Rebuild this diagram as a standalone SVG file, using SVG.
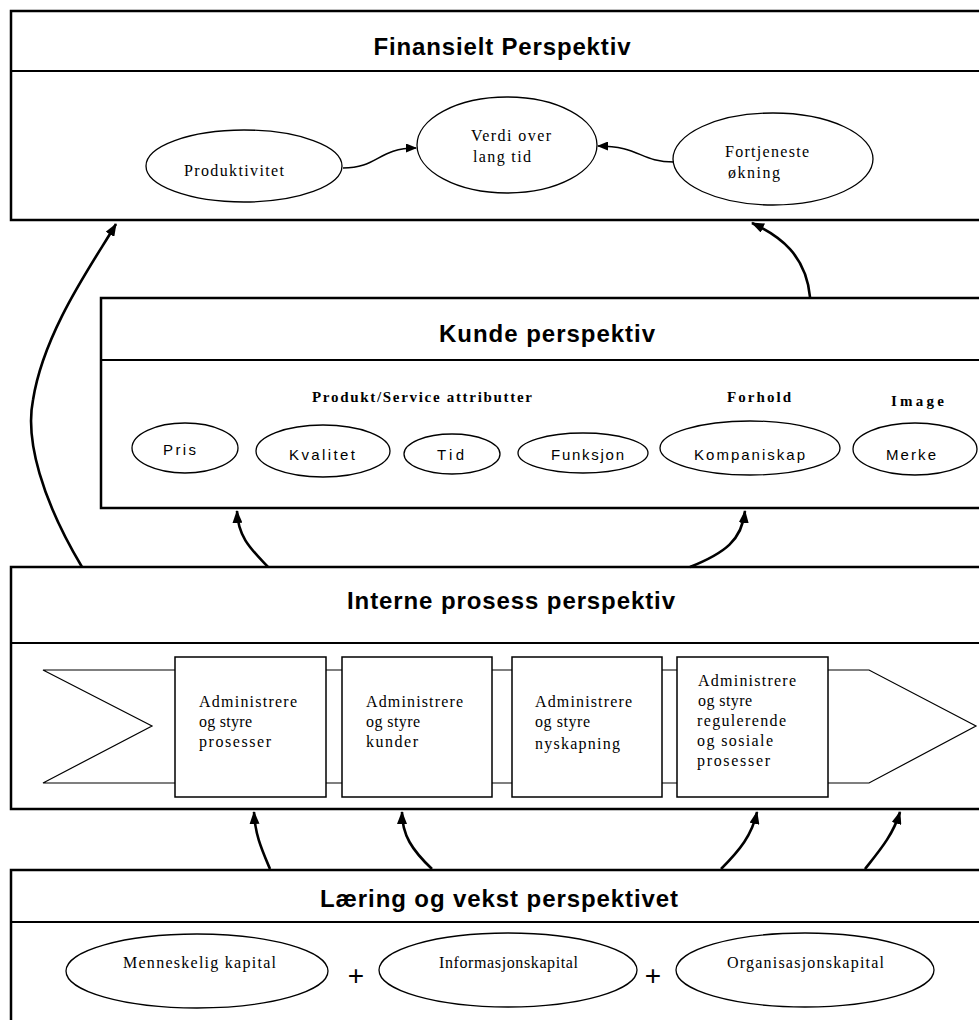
<svg xmlns="http://www.w3.org/2000/svg" width="979" height="1020" viewBox="0 0 979 1020">
  <defs>
    <style>
      .panel { fill: #fff; stroke: #000; stroke-width: 2.5; }
      .divider { stroke: #000; stroke-width: 2; }
      .title { font-family: "Liberation Sans", Arial, sans-serif; font-size: 24px; font-weight: bold; fill: #000; text-anchor: middle; }
      .oval { fill: #fff; stroke: #000; stroke-width: 1.3; }
      .serif { font-family: "Liberation Serif", "Times New Roman", serif; font-size: 16px; fill: #000; }
      .serif16 { font-family: "Liberation Serif", "Times New Roman", serif; font-size: 16px; fill: #000; }
      .sub { font-family: "Liberation Serif", "Times New Roman", serif; font-size: 15px; font-weight: bold; fill: #000; }
      .sans { font-family: "Liberation Sans", Arial, sans-serif; font-size: 15px; fill: #000; }
      .plus { font-family: "Liberation Sans", Arial, sans-serif; font-size: 28px; fill: #000; text-anchor: middle; }
      .step { fill: #fff; stroke: #000; stroke-width: 1.5; }
      .chevron { fill: #fff; stroke: #000; stroke-width: 1.2; }
      .link { fill: none; stroke: #000; stroke-width: 2.6; }
      .thin { fill: none; stroke: #000; stroke-width: 1.5; }
    </style>
    <marker id="head" markerWidth="13" markerHeight="10" refX="12" refY="5" orient="auto" markerUnits="userSpaceOnUse">
      <path d="M0,0 L13,5 L0,10 Z" fill="#000"/>
    </marker>
    <marker id="headSmall" markerWidth="11" markerHeight="9" refX="10" refY="4.5" orient="auto" markerUnits="userSpaceOnUse">
      <path d="M0,0 L11,4.5 L0,9 Z" fill="#000"/>
    </marker>
  </defs>

  <rect width="979" height="1020" fill="#fff"/>

  <!-- Financial perspective -->
  <g id="finansielt">
    <rect class="panel" x="11" y="11" width="985" height="209"/>
    <line class="divider" x1="11" y1="71" x2="996" y2="71"/>
    <text class="title" x="502" y="55" textLength="257">Finansielt Perspektiv</text>
  </g>
  <g id="produktivitet">
    <ellipse class="oval" cx="244" cy="166" rx="98" ry="36"/>
    <text class="serif" x="184" y="176" textLength="100">Produktivitet</text>
  </g>
  <g id="verdi">
    <ellipse class="oval" cx="507" cy="145" rx="90" ry="48"/>
    <text class="serif" x="471" y="141" textLength="80">Verdi over</text>
    <text class="serif" x="473" y="162" textLength="58">lang tid</text>
  </g>
  <g id="fortjeneste">
    <ellipse class="oval" cx="773" cy="159" rx="100" ry="46"/>
    <text class="serif" x="725" y="157" textLength="84">Fortjeneste</text>
    <text class="serif" x="728" y="178" textLength="52">økning</text>
  </g>

  <!-- Customer perspective -->
  <g id="kunde">
    <rect class="panel" x="101" y="298" width="895" height="210"/>
    <line class="divider" x1="101" y1="360" x2="996" y2="360"/>
    <text class="title" x="547" y="342" textLength="216">Kunde perspektiv</text>
    <text class="sub" x="312" y="402" textLength="220">Produkt/Service attributter</text>
    <text class="sub" x="727" y="402" textLength="64">Forhold</text>
    <text class="sub" x="891" y="406" textLength="53">Image</text>
  </g>
  <g id="pris">
    <ellipse class="oval" cx="185" cy="448" rx="53" ry="25"/>
    <text class="sans" x="163" y="455" textLength="33">Pris</text>
  </g>
  <g id="kvalitet">
    <ellipse class="oval" cx="323" cy="451" rx="67" ry="26"/>
    <text class="sans" x="289" y="460" textLength="66">Kvalitet</text>
  </g>
  <g id="tid">
    <ellipse class="oval" cx="452" cy="454" rx="48" ry="20"/>
    <text class="sans" x="437" y="460" textLength="27">Tid</text>
  </g>
  <g id="funksjon">
    <ellipse class="oval" cx="583" cy="453" rx="65" ry="20"/>
    <text class="sans" x="551" y="460" textLength="73">Funksjon</text>
  </g>
  <g id="kompaniskap">
    <ellipse class="oval" cx="750" cy="448" rx="90" ry="27"/>
    <text class="sans" x="694" y="460" textLength="111">Kompaniskap</text>
  </g>
  <g id="merke">
    <ellipse class="oval" cx="915" cy="449" rx="62" ry="26"/>
    <text class="sans" x="886" y="460" textLength="50">Merke</text>
  </g>

  <!-- Internal process perspective -->
  <g id="interne">
    <rect class="panel" x="11" y="567" width="985" height="242"/>
    <line class="divider" x1="11" y1="643" x2="996" y2="643"/>
    <text class="title" x="511" y="609" textLength="328">Interne prosess perspektiv</text>
    <path class="chevron" d="M43,670 L869,670 L976,726 L869,783 L43,783 L152,726 Z"/>
  </g>
  <g id="prosesser">
    <rect class="step" x="175" y="657" width="151" height="140"/>
    <text class="serif16" x="199" y="707" textLength="98">Administrere</text>
    <text class="serif16" x="199" y="727" textLength="53">og styre</text>
    <text class="serif16" x="199" y="747" textLength="72">prosesser</text>
  </g>
  <g id="kunder">
    <rect class="step" x="342" y="657" width="150" height="140"/>
    <text class="serif16" x="366" y="707" textLength="97">Administrere</text>
    <text class="serif16" x="366" y="727" textLength="54">og styre</text>
    <text class="serif16" x="366" y="747" textLength="52">kunder</text>
  </g>
  <g id="nyskapning">
    <rect class="step" x="512" y="657" width="150" height="140"/>
    <text class="serif16" x="535" y="707" textLength="97">Administrere</text>
    <text class="serif16" x="535" y="727" textLength="55">og styre</text>
    <text class="serif16" x="535" y="749" textLength="85">nyskapning</text>
  </g>
  <g id="regulerende">
    <rect class="step" x="677" y="657" width="151" height="140"/>
    <text class="serif16" x="698" y="686" textLength="98">Administrere</text>
    <text class="serif16" x="698" y="706" textLength="54">og styre</text>
    <text class="serif16" x="697" y="726" textLength="89">regulerende</text>
    <text class="serif16" x="697" y="746" textLength="76">og sosiale</text>
    <text class="serif16" x="697" y="766" textLength="73">prosesser</text>
  </g>

  <!-- Learning and growth perspective -->
  <g id="laering">
    <rect class="panel" x="11" y="870" width="985" height="170"/>
    <line class="divider" x1="11" y1="922" x2="996" y2="922"/>
    <text class="title" x="499" y="907" textLength="358">Læring og vekst perspektivet</text>
    <text class="plus" x="356" y="985">+</text>
    <text class="plus" x="653" y="985">+</text>
  </g>
  <g id="menneskelig">
    <ellipse class="oval" cx="197" cy="971" rx="131" ry="37"/>
    <text class="serif" x="123" y="968" textLength="153">Menneskelig kapital</text>
  </g>
  <g id="informasjon">
    <ellipse class="oval" cx="508" cy="970" rx="129" ry="37"/>
    <text class="serif" x="439" y="968" textLength="139">Informasjonskapital</text>
  </g>
  <g id="organisasjon">
    <ellipse class="oval" cx="805" cy="970" rx="129" ry="37"/>
    <text class="serif" x="727" y="968" textLength="157">Organisasjonskapital</text>
  </g>

  <!-- Connectors -->
  <g id="connectors">
    <path class="thin" d="M343,168 C378,168 378,148 416,148" marker-end="url(#headSmall)"/>
    <path class="thin" d="M674,162 C640,162 640,146 598,146" marker-end="url(#headSmall)"/>
    <path class="link" d="M82,567 C42,500 25,440 33,400 C44,330 95,260 116,224" marker-end="url(#head)"/>
    <path class="link" d="M810,297 C806,255 780,236 752,223" marker-end="url(#head)"/>
    <path class="link" d="M268,567 C252,550 238,538 237,511" marker-end="url(#head)"/>
    <path class="link" d="M690,567 C725,553 742,540 745,511" marker-end="url(#head)"/>
    <path class="link" d="M270,869 C262,850 255,835 254,812" marker-end="url(#head)"/>
    <path class="link" d="M432,869 C412,850 402,835 402,812" marker-end="url(#head)"/>
    <path class="link" d="M721,869 C740,850 752,835 757,812" marker-end="url(#head)"/>
    <path class="link" d="M865,869 C880,850 893,835 900,812" marker-end="url(#head)"/>
  </g>
</svg>
